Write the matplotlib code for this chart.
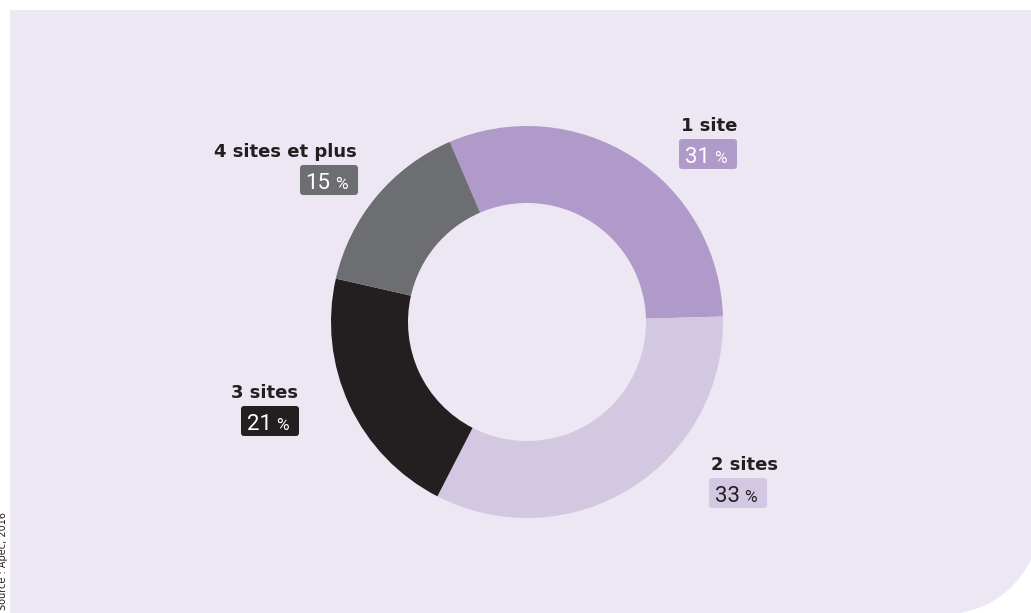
import numpy as np
import matplotlib
matplotlib.use("Agg")
import matplotlib.pyplot as plt
from matplotlib.patches import Polygon, FancyBboxPatch

# ---- data ----
categories = ["1 site", "2 sites", "3 sites", "4 sites et plus"]
shares = [31, 33, 21, 15]
slice_colors = ["#B09AC9", "#D3C8E2", "#231F20", "#6D6E71"]
value_text_colors = ["#FFFFFF", "#231F20", "#FFFFFF", "#FFFFFF"]
source_text = "Source : Apec, 2016"

# ---- layout (pixel coordinates, y measured from top) ----
W, H = 1031, 613
BG = "#EDE7F3"
TXT = "#231F20"
center_px = (527, 322)
R_out, ring_w = 196, 77
start_angle = 113.2
# label box: (left, top) of value box, alignment of texts
box_pos = [(679, 139), (709, 478), (241, 406), (300, 165)]
label_align = ["left", "left", "right", "right"]
box_w, box_h = 58, 30


def py(y):
    return H - y


fig = plt.figure(figsize=(W / 100, H / 100), dpi=100)
fig.patch.set_facecolor("white")
ax = fig.add_axes([0, 0, 1, 1])
ax.set_xlim(0, W)
ax.set_ylim(0, H)
ax.axis("off")

# background panel with rounded bottom-right corner
xr, yb, rc = 1040, 614, 95
cx, cy = xr - rc, py(yb) + rc
th = np.linspace(0, -np.pi / 2, 60)
arc = np.column_stack([cx + rc * np.cos(th), cy + rc * np.sin(th)])
verts = np.vstack([[[10, py(10)], [xr, py(10)], [xr, cy]], arc, [[10, py(yb)]]])
ax.add_patch(Polygon(verts, closed=True, facecolor=BG, edgecolor="none", zorder=0))

# donut
ax.pie(shares, colors=slice_colors, startangle=start_angle, counterclock=False,
       radius=R_out, center=(center_px[0], py(center_px[1])), frame=True,
       wedgeprops=dict(width=ring_w, linewidth=0, edgecolor="none"))
ax.set_xlim(0, W)
ax.set_ylim(0, H)
ax.set_aspect("auto")
ax.axis("off")

# labels
for cat, val, col, tcol, (bx, by), al in zip(categories, shares, slice_colors,
                                              value_text_colors, box_pos, label_align):
    ax.add_patch(FancyBboxPatch((bx, py(by + box_h)), box_w, box_h,
                                boxstyle="round,pad=0,rounding_size=3",
                                facecolor=col, edgecolor="none", zorder=3))
    lx = bx + 2 if al == "left" else bx + box_w - 1
    ax.text(lx, py(by - 8), cat, ha=al, va="baseline", fontsize=13,
            fontweight="bold", color=TXT, family="DejaVu Sans", zorder=4)
    cxb = bx + box_w / 2
    ax.text(cxb + 1.5, py(by + box_h - 6), f"{val}", ha="right", va="baseline",
            fontsize=16, color=tcol, family="Roboto", fontweight="normal", zorder=4)
    ax.text(cxb + 6, py(by + box_h - 6), "%", ha="left", va="baseline",
            fontsize=12.5, color=tcol, family="Roboto", fontweight="normal", zorder=4)

# source
ax.text(3, py(512), source_text, rotation=90, ha="center", va="top",
        fontsize=7, color=TXT, family="DejaVu Sans")

fig.savefig("out.png", dpi=100, facecolor="white")
